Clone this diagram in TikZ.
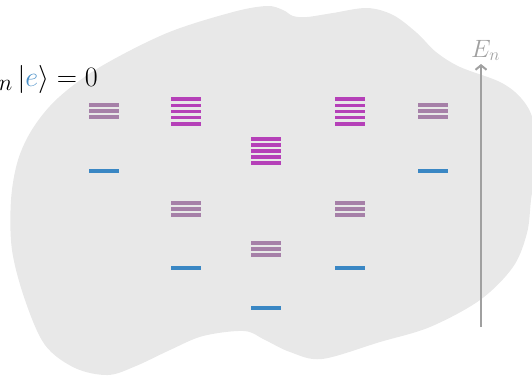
\documentclass[tikz,border=0pt]{standalone}
\usepackage{graphicx}
\usetikzlibrary{arrows.meta}
\definecolor{blobgray}{HTML}{E8E8E8}
\definecolor{magbar}{HTML}{B540B8}
\definecolor{greybar}{HTML}{A680A8}
\definecolor{bluebar}{HTML}{3A87C4}
\definecolor{axisgray}{HTML}{A0A0A0}
\definecolor{eblue}{HTML}{4A90C8}
\tikzset{
  levelbar/.style={line width=3.3pt},
  magline/.style={levelbar, magbar},
  greyline/.style={levelbar, greybar},
  blueline/.style={levelbar, bluebar},
  axis/.style={axisgray, line width=2pt, -{Straight Barb[length=4.5pt,width=11pt,line width=2pt]}},
}
\begin{document}
\begin{tikzpicture}[x=1pt,y=-1pt]
\useasboundingbox (0,0) rectangle (532,376);
% blob
\fill[blobgray] plot[smooth cycle, tension=0.55] coordinates {
 (100,67) (167,33) (233,12) (267,6) (283,10) (293,16) (307,17) (333,13) (367,8) (393,15)
 (417,33) (436,52) (460,67) (500,82) (521,98) (533,120) (536,160) (531,200) (527,233)
 (513,267) (480,300) (430,327) (380,342) (322,359) (290,352) (265,340) (244,331)
 (203,336) (170,350) (136,366) (108,375) (75,368) (45,345) (25,300) (12,250) (11,200)
 (18,160) (33,128) (58,98)};
% column 1 and 5
\foreach \x in {89,418}{
  \foreach \y in {105,111,117} \draw[greyline] (\x,\y) -- ++(30,0);
  \draw[blueline] (\x,171) -- ++(30,0);
}
% columns 2 and 4
\foreach \x in {171,335}{
  \foreach \y in {99,105.25,111.5,117.75,124} \draw[magline] (\x,\y) -- ++(30,0);
  \foreach \y in {203,209,215} \draw[greyline] (\x,\y) -- ++(30,0);
  \draw[blueline] (\x,268) -- ++(30,0);
}
% column 3
\foreach \y in {139,145,151,157,163} \draw[magline] (251,\y) -- ++(30,0);
\foreach \y in {243,249,255} \draw[greyline] (251,\y) -- ++(30,0);
\draw[blueline] (251,308) -- ++(30,0);
% energy axis
\coordinate (ebot) at (481,327);
\coordinate (etop) at (481,64);
\draw[axis] (ebot) -- (etop);
\node[anchor=base west, inner sep=0pt, text=axisgray] (elabel) at (471,57) {\scalebox{1.45}{\fontsize{17.28}{18}\selectfont$E_n$}};
% equation
\node[anchor=base east, inner sep=0pt] (eq) at (98,86) {\scalebox{1.13}{\fontsize{24.88}{26}\selectfont${}_n\,|{\color{eblue}e}\rangle = 0$}};
\end{tikzpicture}
\end{document}
